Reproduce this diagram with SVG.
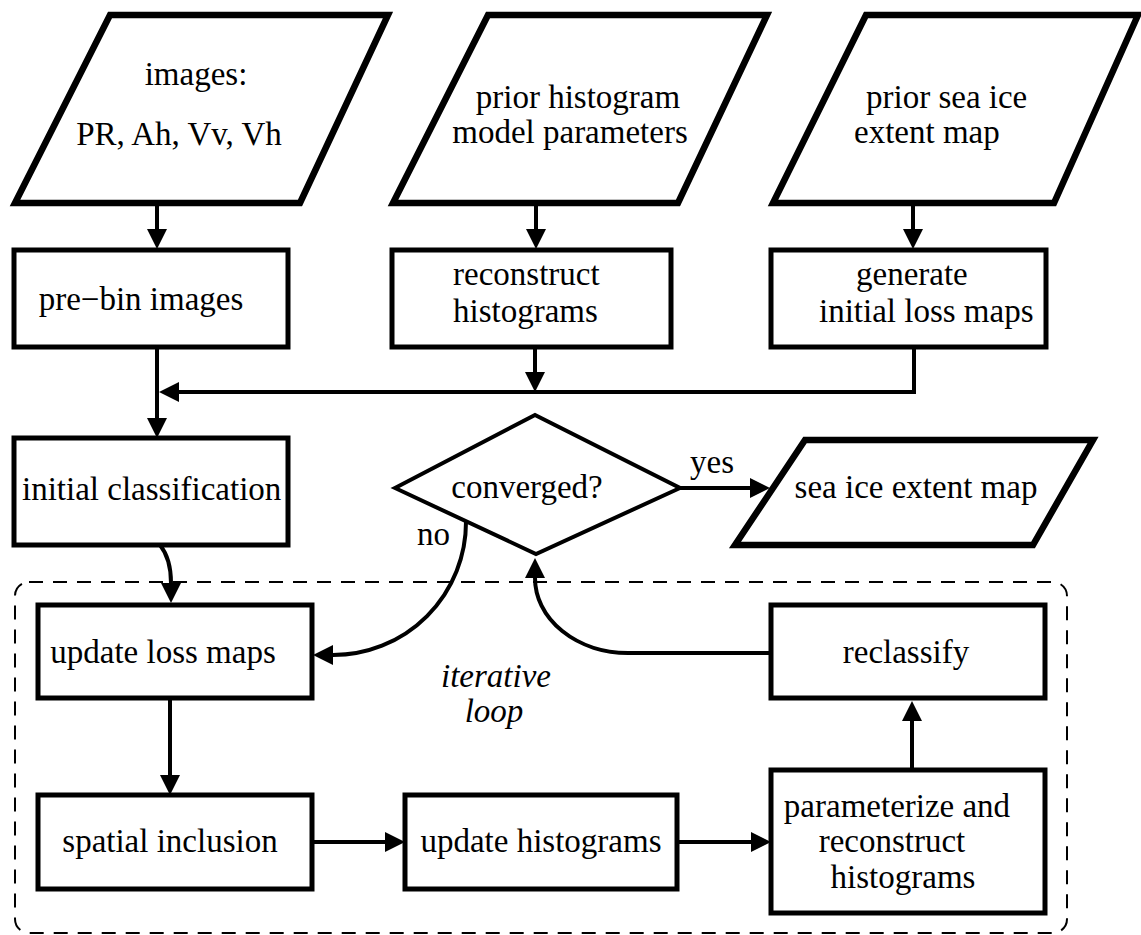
<svg xmlns="http://www.w3.org/2000/svg" width="1141" height="935" viewBox="0 0 1141 935">
<defs>
<style>
.io{fill:#fff;stroke:#000;stroke-width:6.5;stroke-linejoin:miter}
.bx{fill:#fff;stroke:#000;stroke-width:5}
.dm{fill:#fff;stroke:#000;stroke-width:4}
.cn{fill:none;stroke:#000;stroke-width:4}
text{font-family:'Liberation Serif','Times New Roman',Times,Tinos,'DejaVu Serif','Noto Serif',serif;font-size:33px;fill:#000}
.m{text-anchor:middle}
.it{font-style:italic}
.loop{fill:none;stroke:#000;stroke-width:2;stroke-dasharray:14 10}
</style>
<marker id="ah" viewBox="0 0 20 20" refX="0" refY="10" markerWidth="20" markerHeight="20" markerUnits="userSpaceOnUse" orient="auto">
<path d="M0,0 L20,10 L0,20 z" fill="#000"/>
</marker>
</defs>
<rect width="1141" height="935" fill="#fff"/>
<rect class="loop" x="15" y="582" width="1052" height="351" rx="14" ry="14"/>
<g font-family="Liberation Serif, Times New Roman, DejaVu Serif, serif" font-size="33">
<g id="n-images">
<polygon class="io" points="110,15 388,15 300,203 15,203"/>
<text class="m" x="196" y="85">images:</text>
<text class="m" x="179" y="145">PR, Ah, Vv, Vh</text>
</g>
<g id="n-prior-hist">
<polygon class="io" points="488,15 767,15 678,203 393,203"/>
<text class="m" x="578" y="108">prior histogram</text>
<text class="m" x="570" y="143">model parameters</text>
</g>
<g id="n-prior-ice">
<polygon class="io" points="866,15 1138,15 1054,203 773,203"/>
<text x="866" y="108">prior sea ice</text>
<text x="854" y="143">extent map</text>
</g>
<g id="n-prebin">
<rect class="bx" x="14" y="250" width="274" height="97"/>
<text class="m" x="141" y="310">pre−bin images</text>
</g>
<g id="n-reconstruct">
<rect class="bx" x="392" y="250" width="279" height="97"/>
<text x="453" y="285">reconstruct</text>
<text x="453" y="322">histograms</text>
</g>
<g id="n-generate">
<rect class="bx" x="771" y="250" width="275" height="97"/>
<text x="856" y="285">generate</text>
<text x="819" y="322">initial loss maps</text>
</g>
<g id="n-initclass">
<rect class="bx" x="14" y="438" width="274" height="107"/>
<text x="22" y="500">initial classification</text>
</g>
<g id="n-converged">
<polygon class="dm" points="395,488 535,415 680,488 536,554"/>
<text class="m" x="527" y="498">converged?</text>
</g>
<g id="n-output">
<polygon class="io" points="805,440 1093,440 1033,545 735,545"/>
<text class="m" x="916" y="498">sea ice extent map</text>
</g>
<g id="n-updateloss">
<rect class="bx" x="38" y="605" width="274" height="93"/>
<text class="m" x="163" y="663">update loss maps</text>
</g>
<g id="n-reclassify">
<rect class="bx" x="771" y="605" width="274" height="93"/>
<text class="m" x="906" y="663">reclassify</text>
</g>
<g id="n-spatial">
<rect class="bx" x="38" y="795" width="274" height="94"/>
<text class="m" x="170" y="852">spatial inclusion</text>
</g>
<g id="n-updatehist">
<rect class="bx" x="405" y="795" width="272" height="94"/>
<text class="m" x="541" y="852">update histograms</text>
</g>
<g id="n-param">
<rect class="bx" x="771" y="770" width="274" height="143"/>
<text class="m" x="897" y="817">parameterize and</text>
<text class="m" x="892" y="852">reconstruct</text>
<text class="m" x="903" y="888">histograms</text>
</g>
<g id="label-loop">
<text class="m it" x="496" y="687">iterative</text>
<text class="m it" x="494" y="722">loop</text>
</g>
<g id="connectors">
<path class="cn" d="M157,206 V229" marker-end="url(#ah)"/>
<path class="cn" d="M536,206 V229" marker-end="url(#ah)"/>
<path class="cn" d="M913,206 V229" marker-end="url(#ah)"/>
<path class="cn" d="M157,347 V418" marker-end="url(#ah)"/>
<path class="cn" d="M535,347 V372" marker-end="url(#ah)"/>
<path class="cn" d="M914,347 V392 H179" marker-end="url(#ah)"/>
<path class="cn" d="M680,488 H750" marker-end="url(#ah)"/>
<path class="cn" d="M160,545 C168,555 171,568 171,583" marker-end="url(#ah)"/>
<path class="cn" d="M466,522 A133,133 0 0 1 333,655" marker-end="url(#ah)"/>
<path class="cn" d="M771,653 H628 A93,75 0 0 1 535,578" marker-end="url(#ah)"/>
<path class="cn" d="M170,698 V775" marker-end="url(#ah)"/>
<path class="cn" d="M312,842 H385" marker-end="url(#ah)"/>
<path class="cn" d="M677,842 H751" marker-end="url(#ah)"/>
<path class="cn" d="M912,770 V721" marker-end="url(#ah)"/>
<text x="690" y="473">yes</text>
<text x="417" y="545">no</text>
</g>
</g>
</svg>
